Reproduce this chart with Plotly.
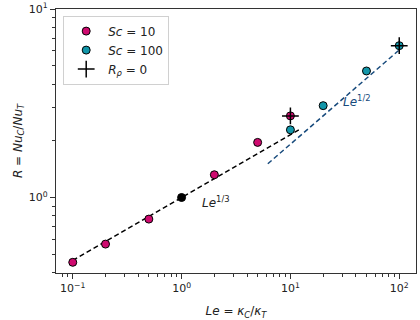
import numpy as np
import plotly.graph_objects as go

# Sc = 10 runs
le_sc10 = [0.1, 0.2, 0.5, 2, 5, 10]
r_sc10 = [0.453, 0.566, 0.768, 1.32, 1.96, 2.71]

# Sc = 100 runs
le_sc100 = [10, 20, 50, 100]
r_sc100 = [2.285, 3.07, 4.69, 6.39]

# Le = 1 reference point
le_ref = [1]
r_ref = [1.0]

# R_rho = 0 runs
le_rp0 = [10, 100]
r_rp0 = [2.71, 6.39]

# scaling lines (end points)
fit13_le = [0.1, 12.2]
fit13_r = [0.464, 2.30]
fit12_le = [6.2, 100]
fit12_r = [1.51, 6.06]

pink = "#cf0a6f"
cyan = "#1296a9"
navy = "#174a7c"
font = "DejaVu Sans"

fig = go.Figure()

fig.add_trace(go.Scatter(x=fit13_le, y=fit13_r, mode="lines", showlegend=False,
                         line=dict(color="black", width=1.5, dash="5px,3px")))
fig.add_trace(go.Scatter(x=fit12_le, y=fit12_r, mode="lines", showlegend=False,
                         line=dict(color=navy, width=1.5, dash="5px,3px")))

fig.add_trace(go.Scatter(x=le_sc10, y=r_sc10, mode="markers", name="<i>Sc</i> = 10",
                         marker=dict(color=pink, size=8, line=dict(color="black", width=1))))
fig.add_trace(go.Scatter(x=le_sc100, y=r_sc100, mode="markers", name="<i>Sc</i> = 100",
                         marker=dict(color=cyan, size=8, line=dict(color="black", width=1))))
fig.add_trace(go.Scatter(x=le_ref, y=r_ref, mode="markers", showlegend=False,
                         marker=dict(color="black", size=8, line=dict(color="black", width=1))))
fig.add_trace(go.Scatter(x=le_rp0, y=r_rp0, mode="markers", name="<i>R<sub>ρ</sub></i> = 0",
                         marker=dict(symbol="cross-thin", size=12, color="black",
                                     line=dict(color="black", width=1.5))))

fig.add_annotation(x=np.log10(2.08), y=np.log10(0.95), text="<i>Le</i><sup>1/3</sup>",
                   showarrow=False, font=dict(family=font, size=12, color="#222222"))
fig.add_annotation(x=np.log10(41), y=np.log10(3.25), text="<i>Le</i><sup>1/2</sup>",
                   showarrow=False, font=dict(family=font, size=12, color=navy))

x_minor = [m * 10.0 ** e for e in (-2, -1, 0, 1, 2) for m in range(2, 10)]
y_minor = [m * 10.0 ** e for e in (-1, 0) for m in range(2, 10)]

fig.update_xaxes(type="log", range=[-1.154, 2.154], automargin=False,
                 tickvals=[0.1, 1, 10, 100],
                 ticktext=["10<sup>−1</sup>", "10<sup>0</sup>", "10<sup>1</sup>", "10<sup>2</sup>"],
                 ticks="outside", ticklen=5, tickwidth=1, tickcolor="#333333",
                 minor=dict(tickvals=x_minor, ticks="outside", ticklen=3, tickcolor="#333333"),
                 showline=True, linecolor="#333333", linewidth=1.2, mirror=True,
                 showgrid=False, zeroline=False,
                 title=dict(text="<i>Le</i> = <i>κ<sub>C</sub></i>/<i>κ<sub>T</sub></i>",
                            font=dict(size=12)))
fig.update_yaxes(type="log", range=[-0.4006, 1.0], automargin=False,
                 tickvals=[1, 10],
                 ticktext=["10<sup>0</sup>", "10<sup>1</sup>"],
                 ticks="outside", ticklen=5, tickwidth=1, tickcolor="#333333",
                 minor=dict(tickvals=y_minor, ticks="outside", ticklen=3, tickcolor="#333333"),
                 showline=True, linecolor="#333333", linewidth=1.2, mirror=True,
                 showgrid=False, zeroline=False,
                 title=dict(text="<i>R</i> = <i>Nu<sub>C</sub></i>/<i>Nu<sub>T</sub></i>",
                            font=dict(size=12)))

fig.update_layout(width=420, height=320, template="none",
                  margin=dict(l=56, r=4, t=9, b=47),
                  font=dict(family=font, size=11, color="#222222"),
                  plot_bgcolor="white", paper_bgcolor="white",
                  legend=dict(x=0.02, y=0.975, xanchor="left", yanchor="top",
                              bgcolor="white", bordercolor="#d0d0d0", borderwidth=1,
                              font=dict(size=12), tracegroupgap=0, itemwidth=34))

# the page body has a default 8px margin; drop it so the figure fills the window
fig.write_html("out.html", config={"displayModeBar": False},
               post_script="document.body.style.margin = '0';")
